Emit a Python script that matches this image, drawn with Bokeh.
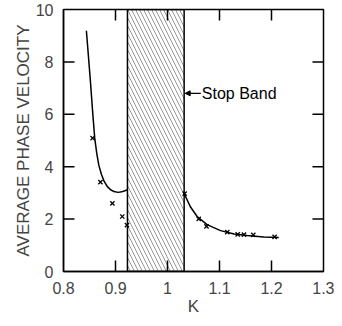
from bokeh.plotting import figure
from bokeh.models import FixedTicker, Label, Arrow, NormalHead, Range1d
from bokeh.embed import file_html
from bokeh.resources import INLINE

# ---- data ----
curve_low_k = [0.844, 0.848, 0.852, 0.856, 0.860, 0.864, 0.868, 0.873, 0.878, 0.884,
               0.890, 0.897, 0.905, 0.912, 0.918, 0.922]
curve_low_v = [9.19, 8.20, 7.20, 6.10, 5.10, 4.50, 4.05, 3.70, 3.45, 3.25,
               3.13, 3.05, 3.02, 3.04, 3.08, 3.12]
curve_high_k = [1.032, 1.044, 1.057, 1.076, 1.102, 1.128, 1.153, 1.185, 1.214]
curve_high_v = [2.97, 2.47, 2.10, 1.79, 1.56, 1.43, 1.37, 1.32, 1.30]
meas_k = [0.856, 0.871, 0.894, 0.913, 0.922, 1.033, 1.060, 1.075, 1.115, 1.135, 1.147, 1.165, 1.206]
meas_v = [5.09, 3.41, 2.60, 2.10, 1.77, 2.97, 2.01, 1.72, 1.50, 1.42, 1.41, 1.40, 1.32]
band_left, band_right = 0.923, 1.032
band_bottom, band_top = 0, 10
x_ticks = [0.8, 0.9, 1.0, 1.1, 1.2, 1.3]
y_ticks = [0, 2, 4, 6, 8, 10]
x_min, x_max = 0.8, 1.3
y_min, y_max = 0, 10
label_text = "Stop Band"
label_k, label_v = 1.066, 6.80
arrow_start_k, arrow_end_k = 1.064, 1.034

FONT = "Liberation Sans"

p = figure(width=334, height=318, output_backend="svg", toolbar_location=None,
           x_range=Range1d(x_min, x_max), y_range=Range1d(y_min, y_max),
           min_border_left=63, min_border_right=11, min_border_top=9, min_border_bottom=46,
           background_fill_color="white", border_fill_color="white")
p.grid.visible = False
p.outline_line_color = "black"
p.outline_line_width = 1.5

for ax in (p.xaxis[0], p.yaxis[0]):
    ax.major_tick_in = 0
    ax.major_tick_out = 0
    ax.major_tick_line_color = None
    ax.minor_tick_line_color = None
    ax.axis_line_width = 1.5
    ax.major_label_text_font = FONT
    ax.major_label_text_font_size = "16px"
    ax.axis_label_text_font = FONT
    ax.axis_label_text_font_style = "normal"
    ax.axis_label_text_font_size = "17px"

p.xaxis[0].ticker = FixedTicker(ticks=x_ticks)
p.yaxis[0].ticker = FixedTicker(ticks=y_ticks)
p.xaxis[0].axis_label = "K"
p.yaxis[0].axis_label = "AVERAGE PHASE VELOCITY"
p.xaxis[0].major_label_standoff = 10
p.yaxis[0].major_label_standoff = 10
p.xaxis[0].axis_label_standoff = 0
p.yaxis[0].axis_label_standoff = 0

# inward ticks on all four sides: dashes centred on the frame edge, clipped by the frame
inner_x = x_ticks[1:-1]
inner_y = y_ticks[1:-1]
tick_size = 22
p.scatter(x=[x_min] * len(inner_y), y=inner_y, marker="dash", size=tick_size,
          line_color="black", line_width=1.5)
p.scatter(x=[x_max] * len(inner_y), y=inner_y, marker="dash", size=tick_size,
          line_color="black", line_width=1.5)
p.scatter(x=inner_x, y=[y_min] * len(inner_x), marker="dash", size=tick_size, angle=1.5708,
          line_color="black", line_width=1.5)
p.scatter(x=inner_x, y=[y_max] * len(inner_x), marker="dash", size=tick_size, angle=1.5708,
          line_color="black", line_width=1.5)

# stop band
p.quad(left=[band_left], right=[band_right], bottom=[band_bottom], top=[band_top],
       fill_color=None, line_color="black", line_width=1.5,
       hatch_pattern="\\", hatch_color="black", hatch_alpha=0.4,
       hatch_scale=8, hatch_weight=1)

p.line(curve_low_k, curve_low_v, line_color="black", line_width=1.5)
p.line(curve_high_k, curve_high_v, line_color="black", line_width=1.5)
p.scatter(meas_k, meas_v, marker="x", size=6, line_color="black", line_width=1.3)

p.add_layout(Arrow(end=NormalHead(size=5, fill_color="black", line_color="black"),
                   x_start=arrow_start_k, y_start=label_v, x_end=arrow_end_k, y_end=label_v,
                   line_color="black", line_width=1.2))
p.add_layout(Label(x=label_k, y=label_v, text=label_text, text_baseline="middle",
                   text_font=FONT, text_font_size="16px", text_color="black"))

open("out.html", "w").write(file_html(p, INLINE))
